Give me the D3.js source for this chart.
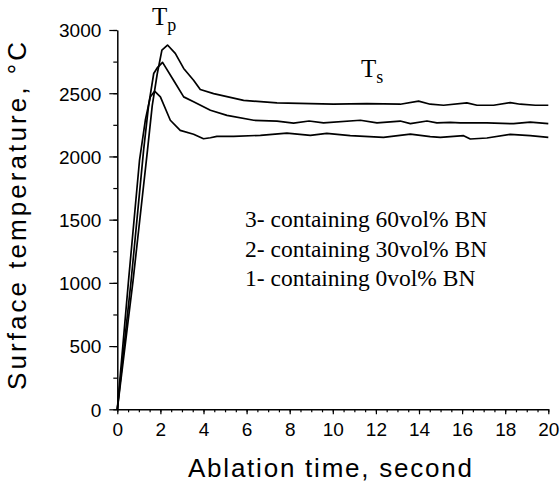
<!DOCTYPE html>
<html>
<head>
<meta charset="utf-8">
<script src="https://cdn.jsdelivr.net/npm/d3@7"></script>
<style>
  body { margin: 0; background: #fff; }
</style>
</head>
<body>
<svg id="svg" width="560" height="483"></svg>
<script>
// ablation time (s) and surface temperature (°C)
var bn0 = [[0,0],[0.52,1016],[1.03,1968],[1.30,2286],[1.53,2470],[1.73,2516],[2.0,2471],[2.46,2286],
  [2.92,2206],[3.54,2175],[4.0,2140],[4.32,2148],[4.62,2159],[5.4,2159],[6.64,2167],[7.87,2185],
  [8.96,2167],[9.72,2183],[10.81,2164],[12.35,2151],[13.6,2177],[14.52,2157],[14.99,2151],
  [16.07,2164],[16.38,2138],[17.15,2146],[18.24,2175],[19.16,2164],[20,2151]];
var bn30 = [[0,0],[0.64,1016],[1.22,2048],[1.45,2400],[1.69,2656],[1.85,2700],[2.1,2744],[2.61,2603],
  [3.08,2471],[3.54,2432],[4.32,2365],[5.09,2325],[6.33,2286],[7.41,2280],[8.18,2264],[8.9,2280],
  [9.57,2265],[11.28,2286],[12.05,2265],[13.13,2280],[13.6,2259],[14.37,2280],[14.83,2265],
  [15.45,2270],[15.91,2265],[17.15,2265],[18.39,2259],[19.16,2272],[20,2259]];
var bn60 = [[0,0],[0.73,1016],[1.40,2048],[1.62,2400],[1.85,2650],[2.07,2841],[2.33,2881],[2.69,2815],
  [3.08,2696],[3.54,2603],[3.85,2529],[4.47,2497],[5.86,2444],[7.41,2423],[8.96,2418],[10.03,2413],
  [11.58,2418],[13.13,2413],[13.98,2437],[14.52,2413],[15.14,2405],[16.22,2423],[16.69,2405],
  [17.46,2405],[18.24,2426],[18.7,2413],[19.4,2405],[20,2405]];
var legendLines = ['3- containing 60vol% BN', '2- containing 30vol% BN', '1- containing 0vol% BN'];
var xTicks = [0,2,4,6,8,10,12,14,16,18,20];
var yTicks = [0,500,1000,1500,2000,2500,3000];

var s = d3.select('#svg');
var x = d3.scaleLinear().domain([0, 20]).range([117.3, 548.3]);
var y = d3.scaleLinear().domain([0, 3000]).range([409.3, 30]);

// minor ticks first
s.append('g')
  .attr('transform', 'translate(0,409.3)')
  .call(d3.axisBottom(x).tickValues(d3.range(0, 20.01, 0.5)).tickSize(3).tickFormat(''))
  .call(function(g){ g.select('.domain').remove(); });
s.append('g')
  .attr('transform', 'translate(117.3,0)')
  .call(d3.axisLeft(y).tickValues(d3.range(0, 3001, 250)).tickSize(4).tickFormat(''))
  .call(function(g){ g.select('.domain').remove(); });

var xa = s.append('g')
  .attr('transform', 'translate(0,409.3)')
  .call(d3.axisBottom(x).tickValues(xTicks).tickSize(5).tickSizeOuter(0).tickPadding(8).tickFormat(d3.format('d')));
var ya = s.append('g')
  .attr('transform', 'translate(117.3,0)')
  .call(d3.axisLeft(y).tickValues(yTicks).tickSize(8).tickSizeOuter(0).tickPadding(8).tickFormat(d3.format('d')));

s.selectAll('.tick line').attr('stroke', '#000').attr('stroke-width', 1.2);
s.selectAll('.domain').attr('stroke', '#000').attr('stroke-width', 1.5);
s.selectAll('.tick text')
  .attr('font-family', 'Liberation Sans, Arial, sans-serif')
  .attr('font-size', 19)
  .attr('fill', '#000');
ya.selectAll('.tick text').attr('dy', '0.36em');

var line = d3.line()
  .x(function(d){ return x(d[0]); })
  .y(function(d){ return y(d[1]); });

[bn0, bn30, bn60].forEach(function(data){
  s.append('path')
    .datum(data)
    .attr('d', line)
    .attr('fill', 'none')
    .attr('stroke', '#000')
    .attr('stroke-width', 1.7)
    .attr('stroke-linejoin', 'round');
});

// axis titles
s.append('text')
  .attr('x', 188)
  .attr('y', 477)
  .attr('textLength', 284)
  .attr('lengthAdjust', 'spacing')
  .attr('font-family', 'Liberation Sans, Arial, sans-serif')
  .attr('font-size', 26)
  .text('Ablation time, second');
s.append('text')
  .attr('transform', 'translate(26,390) rotate(-90)')
  .attr('textLength', 348)
  .attr('lengthAdjust', 'spacing')
  .attr('font-family', 'Liberation Sans, Arial, sans-serif')
  .attr('font-size', 26)
  .text('Surface temperature, \u00B0C');

// legend text
legendLines.forEach(function(t, i){
  s.append('text')
    .attr('x', 245)
    .attr('y', 227 + i * 29.5)
    .attr('font-family', 'Liberation Serif, Times New Roman, serif')
    .attr('font-size', 23.5)
    .text(t);
});

// peak and steady labels
function subLabel(px, py, sub){
  var t = s.append('text')
    .attr('x', px)
    .attr('y', py)
    .attr('font-family', 'Liberation Serif, Times New Roman, serif')
    .attr('font-size', 25);
  t.append('tspan').text('T');
  t.append('tspan').attr('dy', 6).attr('font-size', 18).text(sub);
}
subLabel(152, 25, 'p');
subLabel(361, 77, 's');
</script>
</body>
</html>
